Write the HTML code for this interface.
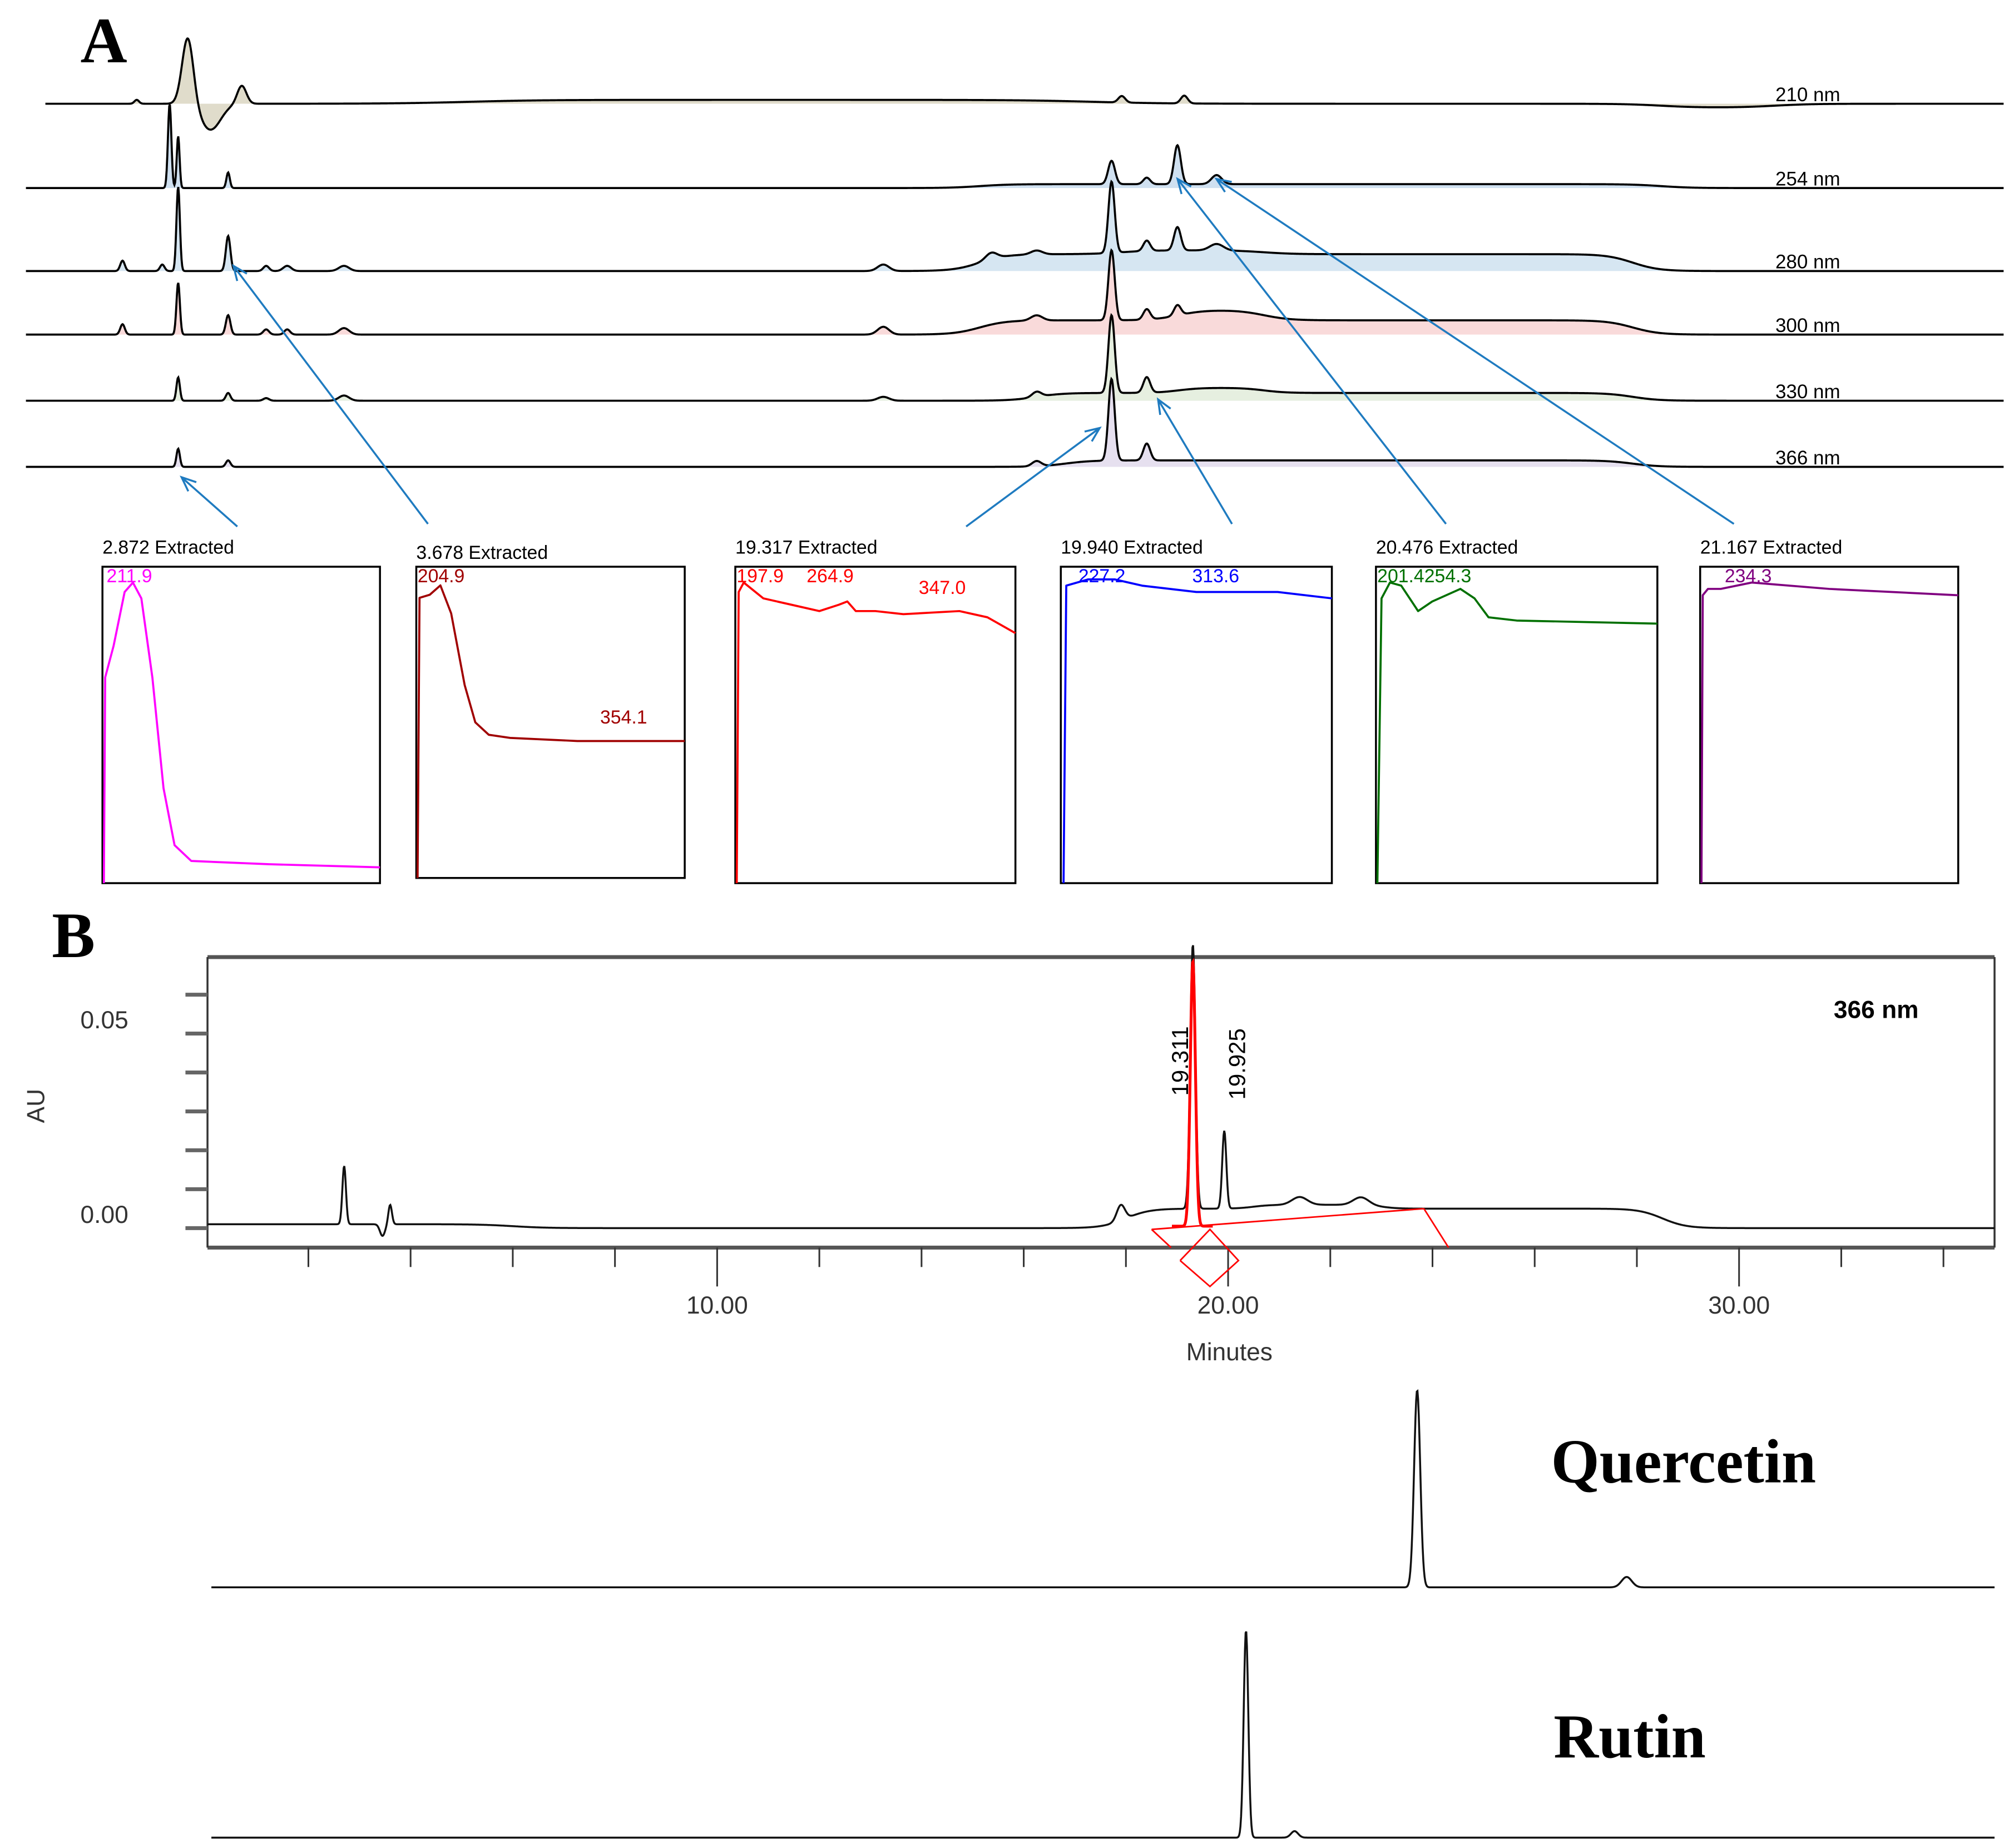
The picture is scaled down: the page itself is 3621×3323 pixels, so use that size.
<!DOCTYPE html>
<html><head><meta charset="utf-8"><style>
html,body{margin:0;padding:0;background:#fff}
svg{display:block}
text{font-family:"Liberation Sans",Arial,sans-serif}
.serif{font-family:"Liberation Serif",serif;font-weight:bold}
</style></head><body>
<svg id="fig" width="3621" height="3323" viewBox="0 0 1553 1425" preserveAspectRatio="none" xmlns="http://www.w3.org/2000/svg">
<rect width="1553" height="1425" fill="#fff"/>
<text class="serif" x="62" y="48" font-size="50">A</text>
<text class="serif" x="40" y="738" font-size="50">B</text>
<g id="gA"></g>
<g id="gSpec"></g>
<g id="gArrows"></g>
<g id="gB"></g>
<g id="gStd"></g>
</svg>
<script>
const NS="http://www.w3.org/2000/svg";
// ---- Panel A data ----
const wavelengths=["210 nm","254 nm","280 nm","300 nm","330 nm","366 nm"];
const baselineY=[80,145,209,258,309,360];
const fillColors=["#e0dccb","#cfe0f0","#d6e6f2","#f9dada","#e6efe0","#e6e0ef"];
// peaks: [time(min), height(px), width(min)]
const peaks210=[[2.15,3,0.04],[3.05,52,0.1],[3.45,-20,0.18],[4.0,14,0.08],[19.5,5,0.06],[20.6,6,0.06]];
const peaks254=[[2.73,65,0.03],[2.88,40,0.025],[3.76,12,0.03],[19.32,18,0.06],[19.94,5,0.06],[20.48,30,0.06],[21.17,7,0.09]];
const peaks280=[[1.9,8,0.04],[2.6,5,0.04],[2.88,65,0.03],[3.76,27,0.04],[4.43,4,0.05],[4.8,4,0.07],[5.8,4,0.09],[15.3,5,0.1],[17.2,5,0.1],[18.0,3,0.1],[19.32,55,0.055],[19.94,8,0.06],[20.48,18,0.06],[21.17,5,0.12]];
const peaks300=[[1.9,8,0.04],[2.88,40,0.03],[3.76,15,0.04],[4.43,4,0.05],[4.8,4,0.05],[5.8,5,0.09],[15.3,6,0.1],[18.0,4,0.1],[19.32,54,0.055],[19.94,8,0.06],[20.48,8,0.06]];
const peaks330=[[2.88,18,0.03],[3.76,6,0.04],[4.43,2,0.05],[5.8,4,0.09],[15.3,3,0.1],[18.0,4,0.08],[19.32,60,0.055],[19.94,12,0.06]];
const peaks366=[[2.88,14,0.03],[3.76,5,0.04],[18.0,4,0.08],[19.32,63,0.055],[19.94,13,0.06]];
const allPeaks=[peaks210,peaks254,peaks280,peaks300,peaks330,peaks366];
// humps: [start, end, height, ramp]
const humps210=[[8,19,3,2],[29,31,-3,1]];
const humps254=[[17,29,3,0.8]];
const humps280=[[17,28.5,13,0.7],[19.5,22,3,0.8]];
const humps300=[[17,28.5,11,0.7],[20.5,22,8,0.7]];
const humps330=[[18,28.5,6,0.7],[20.5,22,4,0.6]];
const humps366=[[18.5,28.5,5,0.7]];
const allHumps=[humps210,humps254,humps280,humps300,humps330,humps366];
// ---- Panel B data ----
const peaksB=[[2.7,0.015,0.035],[3.6,0.005,0.035],[3.45,-0.003,0.05],[17.9,0.004,0.08],[19.31,0.068,0.05],[19.925,0.02,0.04],[21.4,0.002,0.15],[22.6,0.002,0.15]];
const humpsB=[[-2,6,0.001,1],[18,28.5,0.005,0.7],[20.5,23,0.001,0.5]];
const yTicksB=[0,0.01,0.02,0.03,0.04,0.05,0.06];
const yLabelsB=["0.00","0.05"];
const xLabelsB=[10,20,30];
const peaksQuercetin=[[23.7,152,0.06],[27.8,8,0.1]];
const peaksRutin=[[20.35,160,0.045],[21.3,5,0.07]];
// spectra
const specTitles=["2.872 Extracted","3.678 Extracted","19.317 Extracted","19.940 Extracted","20.476 Extracted","21.167 Extracted"];
const specColors=["#ff00ff","#a00000","#ff0000","#0000ff","#007000","#800080"];
const specLabels=[[["211.9",0.01]],[["204.9",0.0],["354.1",0.68]],[["197.9",0.0],["264.9",0.25],["347.0",0.65]],[["227.2",0.06],["313.6",0.48]],[["201.4254.3",0.0]],[["234.3",0.09]]];
const spec1=[[0.005,1],[0.01,0.35],[0.04,0.25],[0.08,0.08],[0.11,0.05],[0.14,0.1],[0.18,0.35],[0.22,0.7],[0.26,0.88],[0.32,0.93],[0.6,0.94],[1,0.95]];
const spec2=[[0.005,1],[0.012,0.1],[0.05,0.09],[0.09,0.06],[0.13,0.15],[0.18,0.38],[0.22,0.5],[0.27,0.54],[0.35,0.55],[0.6,0.56],[1,0.56]];
const spec3=[[0.005,1],[0.012,0.08],[0.03,0.05],[0.1,0.1],[0.2,0.12],[0.3,0.14],[0.37,0.12],[0.4,0.11],[0.43,0.14],[0.5,0.14],[0.6,0.15],[0.8,0.14],[0.9,0.16],[1,0.21]];
const spec4=[[0.01,1],[0.02,0.06],[0.1,0.04],[0.2,0.04],[0.3,0.06],[0.5,0.08],[0.8,0.08],[1,0.1]];
const spec5=[[0.005,1],[0.02,0.1],[0.05,0.05],[0.09,0.06],[0.15,0.14],[0.2,0.11],[0.3,0.07],[0.35,0.1],[0.4,0.16],[0.5,0.17],[1,0.18]];
const spec6=[[0.005,1],[0.01,0.09],[0.03,0.07],[0.08,0.07],[0.2,0.05],[0.5,0.07],[1,0.09]];
const allSpec=[spec1,spec2,spec3,spec4,spec5,spec6];

function mk(tag,attrs,parent,txt){const e=document.createElementNS(NS,tag);for(const k in attrs)e.setAttribute(k,attrs[k]);if(txt!==undefined)e.textContent=txt;parent.appendChild(e);return e;}
function signal(t,peaks,humps){let v=0;for(const p of peaks)v+=p[1]*Math.exp(-0.5*((t-p[0])/p[2])**2);
 for(const h of humps){v+=h[2]/(1+Math.exp(-(t-h[0])/(h[3]/3)))/(1+Math.exp((t-h[1])/(h[3]/3)));}return v;}
// Panel A
const gA=document.getElementById('gA');
wavelengths.forEach((w,i)=>{
 const y0=baselineY[i];const x0=i==0?35:20;let d="";
 for(let x=x0;x<=1545;x+=0.5){const t=(x-11.3)/43.78;const y=y0-signal(t,allPeaks[i],allHumps[i]);d+=(d?"L":"M")+x.toFixed(1)+" "+y.toFixed(2);}
 const f=mk('path',{d:d+"L1545 "+y0+"L"+x0+" "+y0+"Z",fill:fillColors[i],stroke:"none"},gA);
 
 
 const p=mk('path',{d:d,fill:"none",stroke:"#000","stroke-width":1.6},gA);
 
 
 const tx=mk('text',{x:1369,y:y0-2,"font-size":15},gA,w);
 
 
});
// spectra
const boxes=[[79,437,214,244],[321,437,207,240],[567,437,216,244],[818,437,209,244],[1061,437,217,244],[1311,437,199,244]];
const gS=document.getElementById('gSpec');
allSpec.forEach((s,i)=>{const [bx,by,bw,bh]=boxes[i];
 const r=mk('rect',{x:bx,y:by,width:bw,height:bh,fill:"none",stroke:"#000","stroke-width":1.5},gS);
 
 
 const t=mk('text',{x:bx,y:by-(i==1?6:10),"font-size":14.5},gS,specTitles[i]);
 
 
 let d="";s.forEach((p,j)=>{d+=(j?"L":"M")+(bx+p[0]*bw).toFixed(1)+" "+(by+p[1]*bh).toFixed(1);});
 const pl=mk('path',{d:d,fill:"none",stroke:specColors[i],"stroke-width":1.6,"stroke-linejoin":"round"},gS);
 
 
 specLabels[i].forEach(l=>{const yy=l[0]=="354.1"?by+121:(l[0]=="347.0"?by+21:by+12);
  const lt=mk('text',{x:bx+l[1]*bw+1,y:yy,"font-size":14.5,fill:specColors[i]},gS,l[0]);
  
  });
});
// arrows
const arrows=[[183,406,140,368],[330,404,180,205],[745,406,848,330],[950,404,893,308],[1115,404,908,138],[1337,404,938,138]];
const gAr=document.getElementById('gArrows');
arrows.forEach(a=>{const [x1,y1,x2,y2]=a;const ang=Math.atan2(y2-y1,x2-x1);const L=12;
 const d=`M${x1} ${y1}L${x2} ${y2}M${x2-L*Math.cos(ang-0.4)} ${y2-L*Math.sin(ang-0.4)}L${x2} ${y2}L${x2-L*Math.cos(ang+0.4)} ${y2-L*Math.sin(ang+0.4)}`;
 const p=mk('path',{d:d,fill:"none",stroke:"#1f7bc0","stroke-width":1.5},gAr);
 
 });
// Panel B
const gB=document.getElementById('gB');
const xB=t=>159+t*39.4, yB=v=>947-v*3000;
mk('line',{x1:160,y1:738,x2:1538,y2:738,stroke:"#555","stroke-width":3},gB);
mk('line',{x1:160,y1:962,x2:1538,y2:962,stroke:"#555","stroke-width":3},gB);
mk('line',{x1:160,y1:738,x2:160,y2:962,stroke:"#333","stroke-width":1.5},gB);
mk('line',{x1:1538,y1:738,x2:1538,y2:962,stroke:"#333","stroke-width":1.5},gB);
yTicksB.forEach(v=>{const l=mk('line',{x1:143,y1:yB(v),x2:160,y2:yB(v),stroke:"#666","stroke-width":3},gB);
 
 });
yLabelsB.forEach(s=>{const t=mk('text',{x:62,y:yB(parseFloat(s))-4,"font-size":19,fill:"#333"},gB,s);
 
 });
for(let t=2;t<=34;t+=2){const long=xLabelsB.includes(t);
 const l=mk('line',{x1:xB(t),y1:962,x2:xB(t),y2:long?992:977,stroke:"#333","stroke-width":1.3},gB);
 
 }
xLabelsB.forEach(v=>{const t=mk('text',{x:xB(v),y:1013,"font-size":19,"text-anchor":"middle",fill:"#333"},gB,v.toFixed(2));
 
 });
let dB="";for(let x=160;x<=1538;x+=0.5){const t=(x-159)/39.4;dB+=(dB?"L":"M")+x+" "+yB(signal(t,peaksB,humpsB)).toFixed(2);}
const trB=mk('path',{d:dB,fill:"none",stroke:"#111","stroke-width":1.5},gB);


let dR="";for(let x=xB(18.9);x<=xB(19.7);x+=0.25){const t=(x-159)/39.4;dR+=(dR?"L":"M")+x.toFixed(2)+" "+yB(signal(t,[peaksB[4]],[])+0.0005).toFixed(2);}
const red=mk('path',{d:dR,fill:"none",stroke:"#ff0000","stroke-width":2.2},gB);


const rb=mk('path',{d:"M888 948L1098 932M888 948L903 962M1098 932L1117 962M910 972L933 948L955 972L933 992L910 972",fill:"none",stroke:"#ff0000","stroke-width":1.2},gB);


const t1=mk('text',{x:0,y:0,"font-size":18,transform:"translate(916,845) rotate(-90)"},gB,"19.311");

const t2=mk('text',{x:0,y:0,"font-size":18,transform:"translate(960,848) rotate(-90)"},gB,"19.925");

const t3=mk('text',{x:1414,y:785,"font-size":19,"font-weight":"bold"},gB,"366 nm");

const t4=mk('text',{x:0,y:0,"font-size":19,fill:"#333",transform:"translate(34,866) rotate(-90)"},gB,"AU");

const t5=mk('text',{x:948,y:1049,"font-size":19,"text-anchor":"middle",fill:"#333"},gB,"Minutes");

// standards
const gStd=document.getElementById('gStd');
[[peaksQuercetin,1224,"Quercetin",1143,1196],[peaksRutin,1417,"Rutin",1355,1198]].forEach(s=>{
 let d="";for(let x=163;x<=1538;x+=0.5){const t=(x-159)/39.4;d+=(d?"L":"M")+x+" "+(s[1]-signal(t,s[0],[])).toFixed(2);}
 const p=mk('path',{d:d,fill:"none",stroke:"#111","stroke-width":1.5},gStd);
 
 
 const t=mk('text',{x:s[4],y:s[3],"font-size":48,class:"serif"},gStd,s[2]);
 
 
});
</script>
</body></html>
